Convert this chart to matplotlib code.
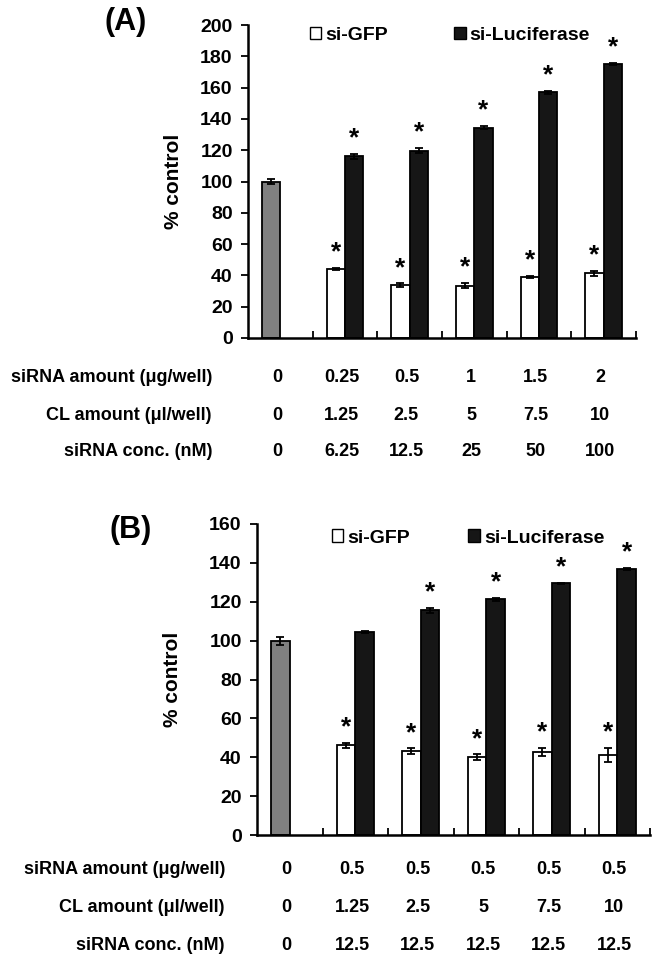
import matplotlib
matplotlib.use("Agg")
import matplotlib.pyplot as plt
from matplotlib.patches import Patch
import numpy as np

plt.rcParams['font.family'] = ['Liberation Sans', 'DejaVu Sans']
plt.rcParams['font.weight'] = 'bold'

# ---------------- data ----------------
series_names = ["si-GFP", "si-Luciferase"]
row_labels_a = ["siRNA amount (\u03bcg/well)", "CL amount (\u03bcl/well)", "siRNA conc. (nM)"]
row_labels_b = ["siRNA amount (\u03bcg/well)", "CL amount (\u03bcl/well)", "siRNA conc. (nM)"]

siRNA_amount_a = ["0", "0.25", "0.5", "1", "1.5", "2"]
cl_amount_a = ["0", "1.25", "2.5", "5", "7.5", "10"]
siRNA_conc_a = ["0", "6.25", "12.5", "25", "50", "100"]

siRNA_amount_b = ["0", "0.5", "0.5", "0.5", "0.5", "0.5"]
cl_amount_b = ["0", "1.25", "2.5", "5", "7.5", "10"]
siRNA_conc_b = ["0", "12.5", "12.5", "12.5", "12.5", "12.5"]

control_a = 100.0
control_err_a = 1.5
gfp_a = [44.0, 33.6, 33.5, 39.0, 41.3]
gfp_err_a = [0.8, 1.3, 1.5, 0.6, 1.5]
luc_a = [116.0, 119.8, 134.5, 157.0, 175.0]
luc_err_a = [1.8, 1.8, 1.0, 0.8, 0.8]
gfp_sig_a = [True, True, True, True, True]
luc_sig_a = [True, True, True, True, True]

control_b = 100.0
control_err_b = 2.0
gfp_b = [46.1, 43.1, 40.0, 42.7, 41.2]
gfp_err_b = [1.3, 1.5, 1.5, 2.0, 3.7]
luc_b = [104.3, 115.5, 121.2, 129.5, 136.8]
luc_err_b = [0.6, 1.5, 0.8, 0.4, 0.5]
gfp_sig_b = [True, True, True, True, True]
luc_sig_b = [False, True, True, True, True]

W, H = 660, 960
fig = plt.figure(figsize=(W / 100, H / 100), dpi=100)


def px_axes(l, r, t, b):
    return fig.add_axes([l / W, 1 - b / H, (r - l) / W, (b - t) / H])


def draw_panel(ax, ymax, ystep, control, control_err, gfp, gfp_err, luc, luc_err,
               gfp_sig, luc_sig, leg_anchor, colspace):
    n = len(gfp) + 1
    w = 1 / 3.5
    centers = np.arange(n) + 0.5
    ekw = dict(ecolor='black', elinewidth=1.3, capsize=3, capthick=1.3)
    ax.bar(centers[0] - w / 2, control, w, yerr=control_err, color='#808080',
           edgecolor='black', linewidth=1.3, error_kw=ekw, zorder=2)
    xg = centers[1:] - w / 2
    xl = centers[1:] + w / 2
    ax.bar(xg, gfp, w, yerr=gfp_err, color='white', edgecolor='black',
           linewidth=1.3, error_kw=ekw, zorder=2)
    ax.bar(xl, luc, w, yerr=luc_err, color='#161616', edgecolor='black',
           linewidth=1.3, error_kw=ekw, zorder=2)
    for xs, vals, errs, sigs in ((xg, gfp, gfp_err, gfp_sig), (xl, luc, luc_err, luc_sig)):
        for x, v, e, s in zip(xs, vals, errs, sigs):
            if s:
                ax.annotate('*', (x, v + e), xytext=(0, 2.5), textcoords='offset points',
                            ha='center', va='bottom', fontsize=19, fontweight='bold')
    ax.set_xlim(0, n)
    ax.set_ylim(0, ymax)
    ax.set_yticks(np.arange(0, ymax + 1, ystep))
    ax.set_xticks(np.arange(1, n + 1))
    ax.set_xticklabels([])
    ax.tick_params(axis='x', direction='in', length=5, width=1.3)
    ax.tick_params(axis='y', direction='out', length=5, width=1.3, labelsize=14, pad=6)
    for lab in ax.get_yticklabels():
        lab.set_fontweight('bold')
    for sp in ['top', 'right']:
        ax.spines[sp].set_visible(False)
    for sp in ['left', 'bottom']:
        ax.spines[sp].set_linewidth(1.8)
    ax.spines['bottom'].set_zorder(3)
    handles = [Patch(facecolor='white', edgecolor='black', linewidth=1.0),
               Patch(facecolor='#161616', edgecolor='black', linewidth=1.0)]
    ax.legend(handles, series_names, ncol=2, loc='center', bbox_to_anchor=leg_anchor,
              frameon=False, handlelength=0.6, handleheight=0.6, handletextpad=0.2,
              columnspacing=colspace, prop=dict(size=14, weight='bold'))
    return centers


def draw_table(ax, centers, rows_y, label_right, labels, rows):
    trans = matplotlib.transforms.blended_transform_factory(ax.transData, fig.transFigure)
    for y, lab, vals in zip(rows_y, labels, rows):
        fig.text(label_right / W, 1 - y / H, lab, ha='right', va='center',
                 fontsize=13, fontweight='bold')
        for c, v in zip(centers, vals):
            ax.text(c - 0.05, 1 - y / H, v, transform=trans, ha='center', va='center',
                    fontsize=13, fontweight='bold', clip_on=False)


# Panel A
axA = px_axes(248, 636, 25, 338)
cA = draw_panel(axA, 200, 20, control_a, control_err_a, gfp_a, gfp_err_a, luc_a, luc_err_a,
                gfp_sig_a, luc_sig_a, (0.52, 0.968), 3.4)
axA.text(-0.193, 0.5, '% control', transform=axA.transAxes, rotation=90,
         ha='center', va='center', fontsize=15, fontweight='bold')
fig.text(126 / W, 1 - 22 / H, '(A)', ha='center', va='center', fontsize=22, fontweight='bold')
draw_table(axA, cA, [377, 415, 452], 212, row_labels_a,
           [siRNA_amount_a, cl_amount_a, siRNA_conc_a])

# Panel B
axB = px_axes(257, 650, 524, 835)
cB = draw_panel(axB, 160, 20, control_b, control_err_b, gfp_b, gfp_err_b, luc_b, luc_err_b,
                gfp_sig_b, luc_sig_b, (0.537, 0.955), 3.0)
axB.text(-0.214, 0.5, '% control', transform=axB.transAxes, rotation=90,
         ha='center', va='center', fontsize=15, fontweight='bold')
fig.text(131 / W, 1 - 530 / H, '(B)', ha='center', va='center', fontsize=22, fontweight='bold')
draw_table(axB, cB, [870, 908, 945], 225, row_labels_b,
           [siRNA_amount_b, cl_amount_b, siRNA_conc_b])

fig.savefig('out.png', dpi=100)
